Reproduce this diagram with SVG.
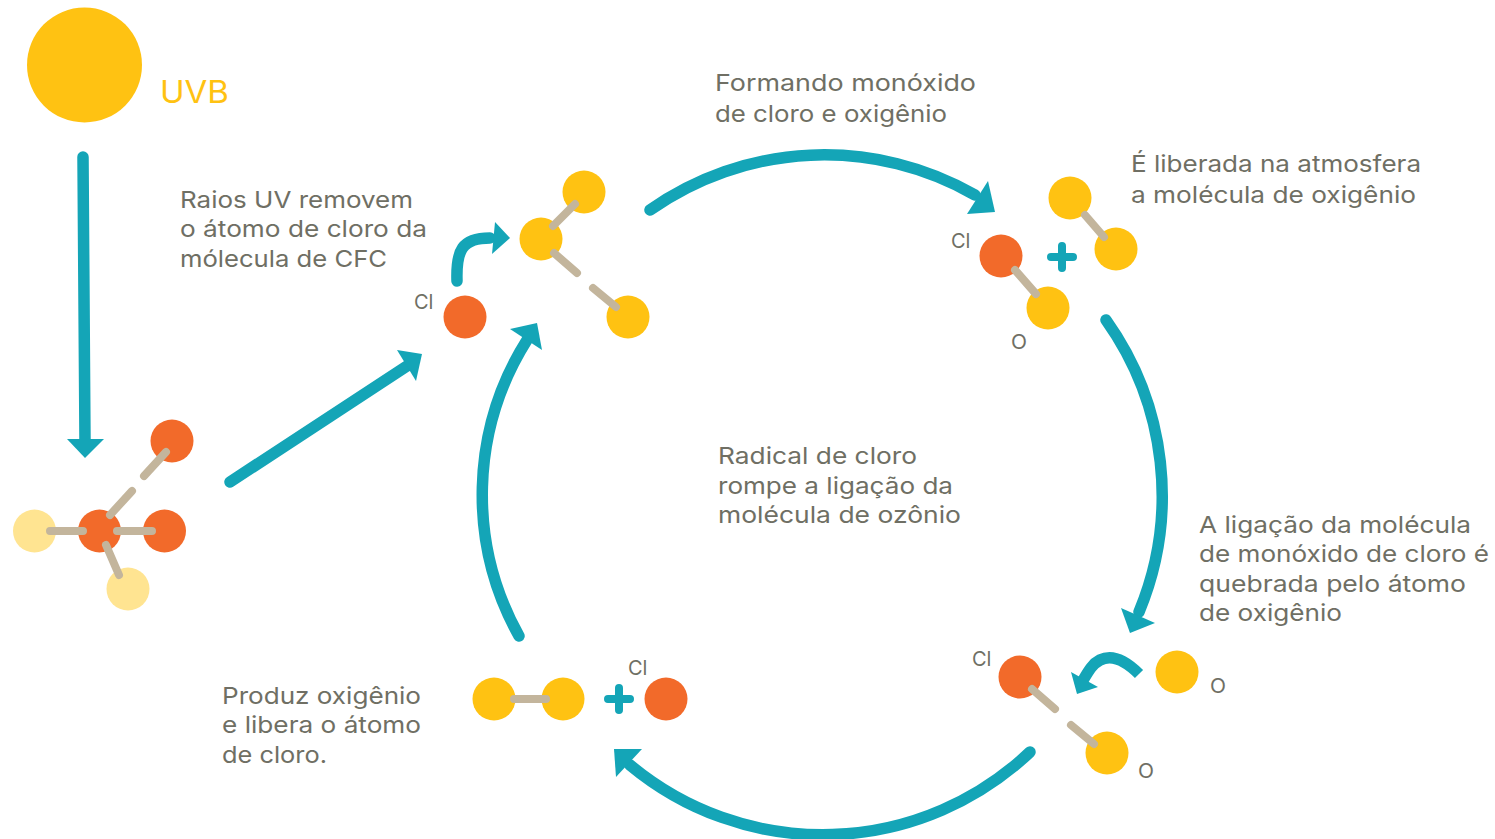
<svg xmlns="http://www.w3.org/2000/svg" width="1495" height="839" viewBox="0 0 1495 839">
<style>
text{font-family:Inter,"Open Sans","Liberation Sans",sans-serif;font-size:23.5px;fill:#6f6f64;-webkit-text-stroke:0.5px #6f6f64}
.s{font-size:20px;-webkit-text-stroke:0.2px #6f6f64}
.o{fill:#f26a2a}.y{fill:#ffc212}.p{fill:#ffe491}
.b{stroke:#c3b59c;stroke-width:8;stroke-linecap:round;fill:none}
.c{stroke:#14a5b7;stroke-width:11.500;stroke-linecap:round;fill:none}
.h{fill:#14a5b7}
</style>
<g id="sun"><circle cx="84.500" cy="65" r="57.500" class="y"/><text x="160" y="103" style="font-size:31px;fill:#ffc212;-webkit-text-stroke:0" textLength="69" lengthAdjust="spacingAndGlyphs">UVB</text></g>
<g id="connectors">
<path class="c" d="M83 157L85 441"/><polygon class="h" points="67,439 104,439 85,458"/>
<path class="c" d="M230 482L407 366"/><polygon class="h" points="397,350 422,354 416,381"/>
<path class="c" d="M457 281C456 250 462 238 490 238"/><polygon class="h" points="495,222 510,238 492,254"/>
<path class="c" d="M650 210A303 303 0 0 1 975 195"/><polygon class="h" points="988,181 995,212 967,214"/>
<path class="c" d="M1106 320A303 303 0 0 1 1139 612"/><polygon class="h" points="1121,608 1155,623 1130,633"/>
<path class="c" d="M1139 674C1125 660 1112 654 1100 660C1092 664 1088 672 1082 682" style="stroke-linecap:butt"/><polygon class="h" points="1071,672 1098,687 1077,694"/>
<path class="c" d="M1030 752A301 301 0 0 1 630 765"/><polygon class="h" points="614,749 642,749 616,777"/>
<path class="c" d="M519 636A290 290 0 0 1 527 340"/><polygon class="h" points="510,329 537,323 542,350"/>
<path class="c" d="M1051 257H1073M1062 246V268" style="stroke-width:8"/>
<path class="c" d="M608 699H630M619 688V710" style="stroke-width:8"/>
</g>
<g id="cfc">
<circle cx="172" cy="441" r="21.500" class="o"/><circle cx="34.500" cy="531" r="21.500" class="p"/><circle cx="99.500" cy="531" r="21.500" class="o"/><circle cx="164.500" cy="531" r="21.500" class="o"/><circle cx="128" cy="589" r="21.500" class="p"/>
<path class="b" d="M166 452L144 476M132 491L110 515M50 531H83M117 531H152M106 545L119 575"/>
</g>
<g id="cl1"><circle cx="465" cy="317" r="21.500" class="o"/><text class="s" x="414" y="309">Cl</text></g>
<g id="ozone">
<circle cx="584" cy="192" r="21.500" class="y"/><circle cx="541" cy="239" r="21.500" class="y"/><circle cx="628" cy="317" r="21.500" class="y"/>
<path class="b" d="M575 204L553 226M554 253L577 273M593 288L616 307"/>
</g>
<g id="clo">
<circle cx="1001" cy="256" r="21.500" class="o"/><circle cx="1048" cy="308" r="21.500" class="y"/>
<path class="b" d="M1015 270L1036 294"/><text class="s" x="951" y="248">Cl</text><text class="s" x="1011" y="349" textLength="16" lengthAdjust="spacingAndGlyphs">O</text>
</g>
<g id="o2-top">
<circle cx="1070" cy="198" r="21.500" class="y"/><circle cx="1116" cy="249" r="21.500" class="y"/>
<path class="b" d="M1085 215L1104 237"/>
</g>
<g id="clo-break">
<circle cx="1020" cy="677" r="21.500" class="o"/><circle cx="1107" cy="753" r="21.500" class="y"/>
<path class="b" d="M1032 689L1055 709M1071 725L1094 744"/><text class="s" x="972" y="666">Cl</text><text class="s" x="1138" y="778" textLength="16" lengthAdjust="spacingAndGlyphs">O</text>
</g>
<g id="o-free"><circle cx="1177" cy="672" r="21.500" class="y"/><text class="s" x="1210" y="693" textLength="16" lengthAdjust="spacingAndGlyphs">O</text></g>
<g id="o2-bottom">
<circle cx="494" cy="699" r="21.500" class="y"/><circle cx="563" cy="699" r="21.500" class="y"/>
<path class="b" d="M514 699H546"/>
</g>
<g id="cl2"><circle cx="666" cy="699" r="21.500" class="o"/><text class="s" x="628" y="675">Cl</text></g>
<g id="labels">
<text x="180" y="208" lengthAdjust="spacingAndGlyphs" textLength="233">Raios UV removem</text>
<text x="180" y="237" lengthAdjust="spacingAndGlyphs" textLength="247">o átomo de cloro da</text>
<text x="180" y="267" lengthAdjust="spacingAndGlyphs" textLength="207">mólecula de CFC</text>
<text x="715" y="91" lengthAdjust="spacingAndGlyphs" textLength="261">Formando monóxido</text>
<text x="715" y="122" lengthAdjust="spacingAndGlyphs" textLength="232">de cloro e oxigênio</text>
<text x="1131" y="172" lengthAdjust="spacingAndGlyphs" textLength="290">É liberada na atmosfera</text>
<text x="1131" y="203" lengthAdjust="spacingAndGlyphs" textLength="285">a molécula de oxigênio</text>
<text x="718" y="464" lengthAdjust="spacingAndGlyphs" textLength="199">Radical de cloro</text>
<text x="718" y="494" lengthAdjust="spacingAndGlyphs" textLength="235">rompe a ligação da</text>
<text x="718" y="523" lengthAdjust="spacingAndGlyphs" textLength="243">molécula de ozônio</text>
<text x="1199" y="533" lengthAdjust="spacingAndGlyphs" textLength="272">A ligação da molécula</text>
<text x="1199" y="562" lengthAdjust="spacingAndGlyphs" textLength="290">de monóxido de cloro é</text>
<text x="1199" y="592" lengthAdjust="spacingAndGlyphs" textLength="267">quebrada pelo átomo</text>
<text x="1199" y="621" lengthAdjust="spacingAndGlyphs" textLength="143">de oxigênio</text>
<text x="222" y="704" lengthAdjust="spacingAndGlyphs" textLength="199">Produz oxigênio</text>
<text x="222" y="733" lengthAdjust="spacingAndGlyphs" textLength="199">e libera o átomo</text>
<text x="222" y="763" lengthAdjust="spacingAndGlyphs" textLength="105">de cloro.</text>
</g>
</svg>
